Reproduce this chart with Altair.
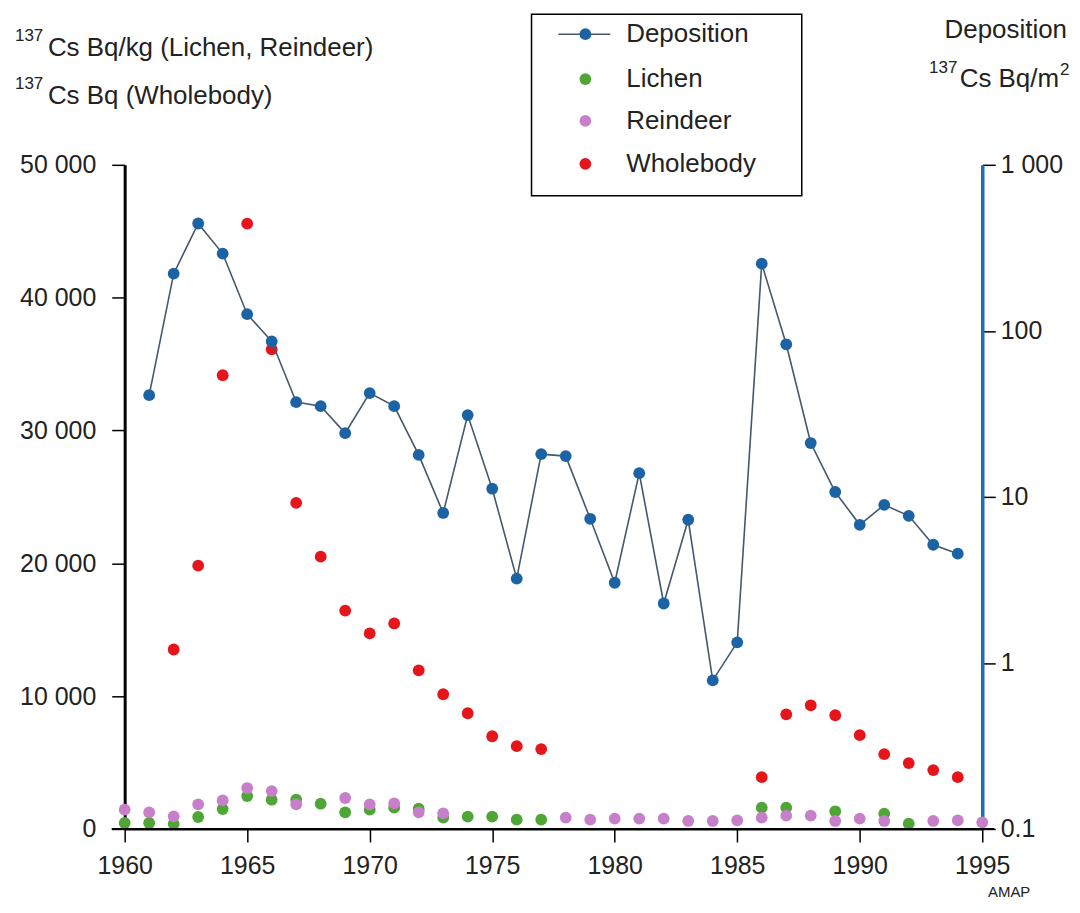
import altair as alt
import pandas as pd

# ---------------- data ----------------
dep_years = list(range(1961, 1995))
deposition = [41, 221, 443, 292, 126, 86.5, 37.2, 35.2, 24.2, 42.2,
              35.2, 17.9, 8.0, 31.1, 11.2, 3.22, 18.1, 17.6, 7.38, 3.04,
              13.9, 2.28, 7.28, 0.785, 1.33, 254, 83, 21.1, 10.7, 6.79,
              8.95, 7.69, 5.15, 4.55]

lr_years = list(range(1960, 1996))
lichen = [450, 450, 370, 900, 1500, 2480, 2200, 2200, 1900, 1250,
          1450, 1600, 1520, 850, 930, 930, 700, 700, None, None,
          None, None, None, None, None, None, 1600, 1600, None, 1330,
          None, 1150, 400, None, None, None]
reindeer = [1450, 1250, 950, 1850, 2150, 3080, 2850, 1850, None, 2330,
            1850, 1930, 1250, 1170, None, None, None, None, 850, 700,
            780, 780, 780, 600, 600, 650, 850, 1000, 1000, 600,
            780, 600, None, 600, 650, 500]

wb_years = list(range(1962, 1978)) + list(range(1986, 1995))
wholebody = [13510, 19820, 34160, 45570, 36110, 24550, 20500, 16440, 14720, 15470,
             11940, 10140, 8710, 6980, 6230, 6010,
             3900, 8630, 9310, 8560, 7060, 5630, 4960, 4430, 3900]

legend_labels = ["Deposition", "Lichen", "Reindeer", "Wholebody"]
x_ticks = [1960, 1965, 1970, 1975, 1980, 1985, 1990, 1995]
left_ticks = [0, 10000, 20000, 30000, 40000, 50000]
right_ticks = [0.1, 1, 10, 100, 1000]

# ---------------- styles ----------------
FONT = "Liberation Sans"
TXT = "#222222"
BLUE = "#1b63a5"
LINE = "#45586a"
AXBLUE = "#1f6fb2"
GREEN = "#4fa535"
PINK = "#c77fc9"
RED = "#e6141b"
PT = 140
W, H = 860, 666

# long table for the left-axis series (drawn in this order)
rows = []
for yr, v in zip(lr_years, lichen):
    if v is not None:
        rows.append({"year": yr, "v": v, "series": "Lichen"})
for yr, v in zip(lr_years, reindeer):
    if v is not None:
        rows.append({"year": yr, "v": v, "series": "Reindeer"})
for yr, v in zip(wb_years, wholebody):
    rows.append({"year": yr, "v": v, "series": "Wholebody"})
left_df = pd.DataFrame(rows)
dep_df = pd.DataFrame({"year": dep_years, "v": deposition})

space_fmt = "replace(format(datum.value, ','), ',', ' ')"

left_axis = alt.Axis(orient="left", values=left_ticks, labelExpr=space_fmt,
                     domainColor="black", domainWidth=3, tickColor="black",
                     tickWidth=1.5, tickSize=13, labelPadding=16,
                     labelFontSize=25, labelFont=FONT, labelColor=TXT,
                     title=None, grid=False)
right_axis = alt.Axis(orient="right", values=right_ticks, labelExpr=space_fmt,
                      domainColor=AXBLUE, domainWidth=3.5, tickColor="black",
                      tickWidth=1.5, tickSize=13, labelPadding=5,
                      labelFontSize=25, labelFont=FONT, labelColor=TXT,
                      title=None, grid=False)
x_axis = alt.Axis(orient="bottom", values=x_ticks, format="d", tickSize=13,
                  tickWidth=1.5, tickColor="black", domain=True,
                  domainColor="black", domainWidth=2,
                  labelFontSize=25, labelFont=FONT, labelPadding=12,
                  labelFlush=False, labelColor=TXT,
                  title=None, grid=False)

x_scale = alt.Scale(domain=[1960, 1995], nice=False, zero=False)
y_left_scale = alt.Scale(domain=[0, 50000], nice=False)
y_right_scale = alt.Scale(type="log", domain=[0.1, 1000], nice=False)

left_ch = alt.Chart(left_df).mark_circle(size=PT, opacity=1).encode(
    x=alt.X("year:Q", scale=x_scale, axis=x_axis),
    y=alt.Y("v:Q", scale=y_left_scale, axis=left_axis),
    color=alt.Color("series:N",
                    scale=alt.Scale(domain=["Lichen", "Reindeer", "Wholebody"],
                                    range=[GREEN, PINK, RED]),
                    legend=None))

dep_ch = alt.Chart(dep_df).mark_line(
    color=LINE, strokeWidth=1.6,
    point=alt.OverlayMarkDef(filled=True, size=PT, color=BLUE, opacity=1)
).encode(
    x=alt.X("year:Q", scale=x_scale, axis=x_axis),
    y=alt.Y("v:Q", scale=y_right_scale, axis=right_axis))

data_layer = alt.layer(left_ch, dep_ch).resolve_scale(y="independent")

one = pd.DataFrame({"k": [0]})

x_rule = alt.Chart(one).mark_rule(color="black", strokeWidth=2).encode(
    x=alt.value(-13), x2=alt.value(872), y=alt.value(H))


def txt(s, x, y, size, align="left", baseline="alphabetic"):
    return alt.Chart(one).mark_text(text=s, align=align, baseline=baseline,
                                    fontSize=size, font=FONT, color=TXT).encode(
        x=alt.value(x), y=alt.value(y))


annotations = [
    txt("137", -110, -124, 17),
    txt("Cs Bq/kg (Lichen, Reindeer)", -77, -109, 26),
    txt("137", -110, -76, 17),
    txt("Cs Bq (Wholebody)", -77, -61, 26),
    txt("Deposition", 945, -127, 26, align="right"),
    txt("Cs Bq/m", 937, -78, 26, align="right"),
    txt("2", 938, -90, 17),
    txt("137", 835, -92, 17, align="right"),
    txt("AMAP", 887, 734, 15, align="center"),
]

# legend (drawn by hand)
box = alt.Chart(one).mark_rect(fill="white", stroke="black", strokeWidth=1.5).encode(
    x=alt.value(408), x2=alt.value(679), y=alt.value(-151), y2=alt.value(31))
leg_colors = [BLUE, GREEN, PINK, RED]
leg_y = [-131, -86, -44, -1]
legend_items = [box,
                alt.Chart(one).mark_rule(color=LINE, strokeWidth=1.6).encode(
                    x=alt.value(435), x2=alt.value(487), y=alt.value(leg_y[0]))]
for lab, col, yy in zip(legend_labels, leg_colors, leg_y):
    legend_items.append(alt.Chart(one).mark_circle(size=PT, color=col, opacity=1).encode(
        x=alt.value(462), y=alt.value(yy)))
    legend_items.append(txt(lab, 503, yy, 26, baseline="middle"))

chart = alt.layer(
    data_layer, *legend_items, *annotations, x_rule
).properties(
    width=W, height=H,
    padding={"left": 117, "top": 156, "right": 90, "bottom": 70},
    autosize=alt.AutoSizeParams(type="none"),
).configure_view(strokeWidth=0)

chart.save("out.html", embed_options={"renderer": "svg", "actions": False})
